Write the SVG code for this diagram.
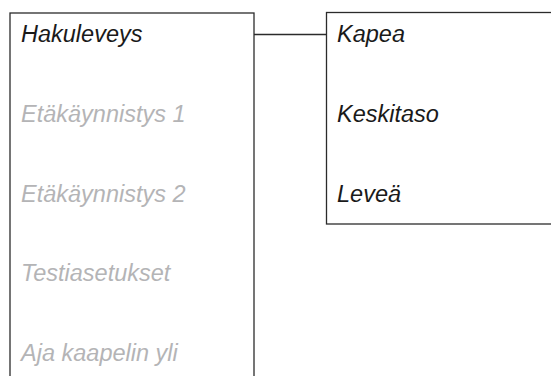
<svg xmlns="http://www.w3.org/2000/svg" width="551" height="376" viewBox="0 0 551 376">
<style>
.box{fill:#fff;stroke:#2b2b2b;stroke-width:1.3}
.t{font-family:"Liberation Sans",Arial,sans-serif;font-style:italic;font-size:23.5px}
.on{fill:#1a1a1a}
.off{fill:#b4b4b6}
.c{stroke:#2b2b2b;stroke-width:1.3;fill:none}
</style>
<g id="connectors"><line class="c" x1="254" y1="34.5" x2="326" y2="34.5"/></g>
<g id="menu">
<rect class="box" x="10" y="13" width="244" height="380"/>
<text class="t on" x="21" y="42">Hakuleveys</text>
<text class="t off" x="21" y="122">Etäkäynnistys 1</text>
<text class="t off" x="21" y="202">Etäkäynnistys 2</text>
<text class="t off" x="21" y="281">Testiasetukset</text>
<text class="t off" x="21" y="361">Aja kaapelin yli</text>
</g>
<g id="options">
<rect class="box" x="326.5" y="12.5" width="240" height="211.5"/>
<text class="t on" x="337" y="42">Kapea</text>
<text class="t on" x="337" y="122">Keskitaso</text>
<text class="t on" x="337" y="202">Leveä</text>
</g>
</svg>
